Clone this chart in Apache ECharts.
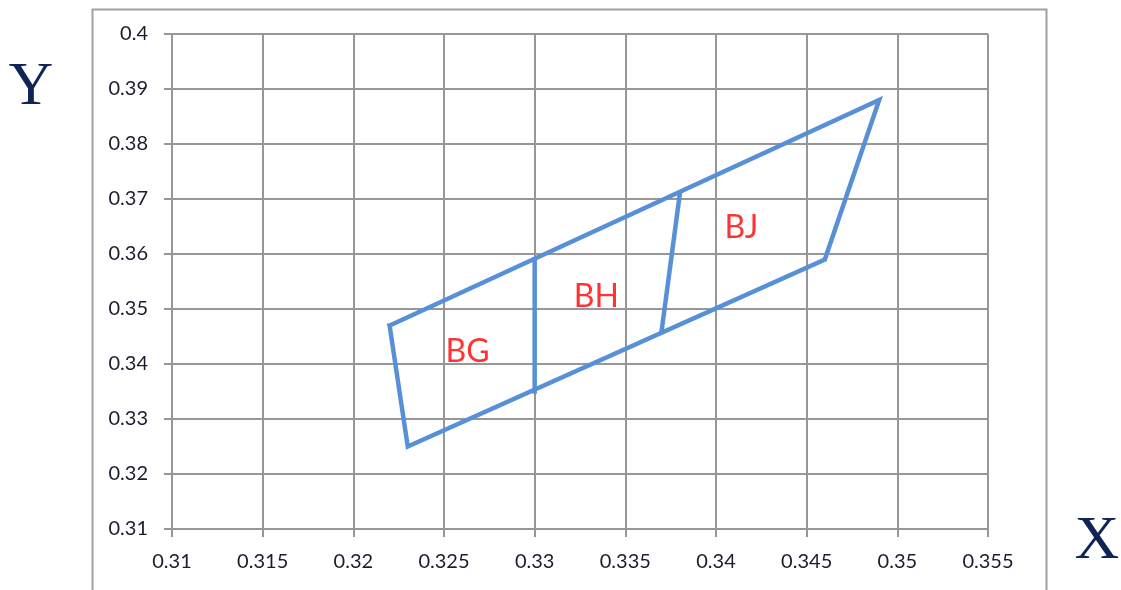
<!DOCTYPE html>
<html>
<head>
<meta charset="utf-8">
<script src="https://cdn.jsdelivr.net/npm/echarts@6/dist/echarts.min.js"></script>
<style>
html,body{margin:0;padding:0;background:#fff;}
#chart{width:1121px;height:590px;}
</style>
</head>
<body>
<div id="chart"></div>
<script>
// Data
const outlineX = [0.322, 0.323, 0.346, 0.349, 0.322];
const outlineY = [0.347, 0.325, 0.359, 0.388, 0.347];
const divider1X = [0.330, 0.330];
const divider1Y = [0.335, 0.359];
const divider2X = [0.337, 0.338];
const divider2Y = [0.346, 0.3708];
const regionNames = ['BG', 'BH', 'BJ'];
const regionX = [0.3263, 0.3334, 0.3414];
const regionY = [0.3422, 0.3523, 0.3647];
const xTicks = {min: 0.31, max: 0.355, interval: 0.005};
const yTicks = {min: 0.31, max: 0.40, interval: 0.01};
const xTitle = 'X';
const yTitle = 'Y';

const zip = (a, b) => a.map((v, i) => [v, b[i]]);
const lineColor = '#5890d8';
const gridColor = '#979797';

const chart = echarts.init(document.getElementById('chart'), null, {renderer: 'canvas'});
const lineSeries = (data) => ({
  type: 'line', data: data, showSymbol: false, symbol: 'none', silent: true,
  lineStyle: {color: lineColor, width: 4.5, join: 'miter', cap: 'square'}, animation: false
});
const labelStyle = {color: '#1c1c30', fontFamily: 'Lato', fontSize: 20,
  formatter: v => String(+v.toFixed(3))};
chart.setOption({
  animation: false,
  grid: {left: 172, right: 133, top: 34, bottom: 61},
  xAxis: {
    type: 'value', min: xTicks.min, max: xTicks.max, interval: xTicks.interval,
    axisLine: {show: true, onZero: false, lineStyle: {color: gridColor, width: 2}},
    axisTick: {show: true, length: 8, lineStyle: {color: gridColor, width: 2}},
    splitLine: {show: true, lineStyle: {color: gridColor, width: 2}},
    axisLabel: Object.assign({margin: 23}, labelStyle)
  },
  yAxis: {
    type: 'value', min: yTicks.min, max: yTicks.max, interval: yTicks.interval,
    axisLine: {show: true, onZero: false, lineStyle: {color: gridColor, width: 2}},
    axisTick: {show: true, length: 8, lineStyle: {color: gridColor, width: 2}},
    splitLine: {show: true, lineStyle: {color: gridColor, width: 2}},
    axisLabel: Object.assign({margin: 24}, labelStyle)
  },
  graphic: [
    {type: 'rect', left: 90, top: 7, shape: {width: 954, height: 600},
      style: {fill: 'none', stroke: '#a0a0a0', lineWidth: 2}, silent: true},
    {type: 'text', x: 31, y: 88, style: {text: yTitle, font: '62px "Liberation Serif"',
      fill: '#0f2557', textAlign: 'center', textVerticalAlign: 'middle'}},
    {type: 'text', x: 1097, y: 542, style: {text: xTitle, font: '62px "Liberation Serif"',
      fill: '#0f2557', textAlign: 'center', textVerticalAlign: 'middle'}}
  ],
  series: [
    lineSeries(zip(outlineX, outlineY)),
    lineSeries(zip(divider1X, divider1Y)),
    lineSeries(zip(divider2X, divider2Y)),
    {
      type: 'scatter', symbolSize: 0, silent: true,
      data: regionNames.map((n, i) => [regionX[i], regionY[i], n]),
      label: {show: true, position: 'inside', formatter: p => p.value[2],
        color: '#ff0000', fontFamily: 'Lato', fontSize: 32}
    }
  ]
});
</script>
</body>
</html>
